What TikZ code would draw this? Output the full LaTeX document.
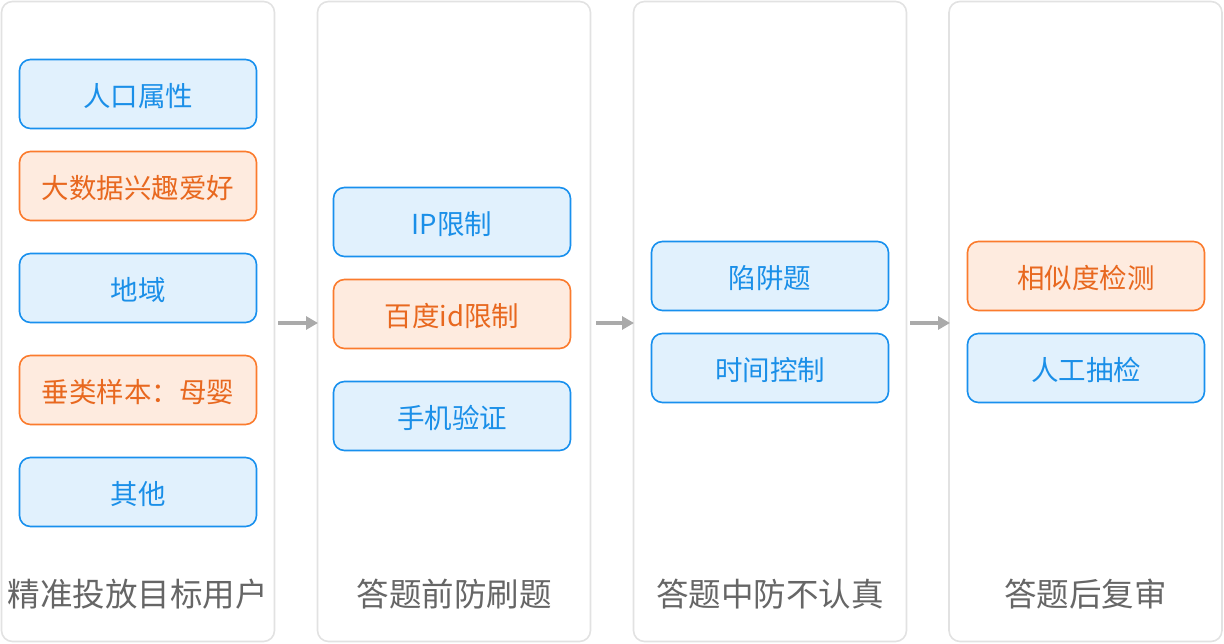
\documentclass[tikz,border=0pt]{standalone}
\usepackage{fontspec}
\setmainfont{Noto Sans CJK SC}
\usetikzlibrary{arrows.meta}
\definecolor{frame}{HTML}{E2E2E2}
\definecolor{bborder}{HTML}{1890EE}
\definecolor{bfill}{HTML}{E1F1FD}
\definecolor{btext}{HTML}{1A8FE8}
\definecolor{oborder}{HTML}{FB7B2D}
\definecolor{ofill}{HTML}{FEEBDF}
\definecolor{otext}{HTML}{E8681F}
\definecolor{ttext}{HTML}{666666}
\definecolor{arr}{HTML}{AAAAAA}
\tikzset{
  colbox/.style={draw=frame, line width=1.6pt, rounded corners=11pt, fill=white,
    minimum width=273pt, minimum height=640pt, inner sep=0pt},
  bluebox/.style={draw=bborder, fill=bfill, text=btext, line width=1.6pt, rounded corners=11pt,
    minimum width=237pt, minimum height=69pt, inner sep=0pt, text height=25pt, text depth=0pt,
    font=\fontsize{27.5}{31}\selectfont},
  orangebox/.style={bluebox, draw=oborder, fill=ofill, text=otext},
  coltitle/.style={text=ttext, font=\fontsize{32.5}{37}\selectfont, inner sep=0pt},
  flow/.style={draw=arr, line width=3.5pt, -{Triangle[length=12pt,width=13pt]}, shorten <=2pt}
}
\begin{document}
\begin{tikzpicture}[x=1pt,y=-1pt]
\useasboundingbox (0,0) rectangle (1224,644);
\node[colbox] (c1) at (138,321.5) {};
\node[colbox] (c2) at (454,321.5) {};
\node[colbox] (c3) at (770,321.5) {};
\node[colbox] (c4) at (1085.5,321.5) {};

\node[bluebox] (a1) at (138,94) {人口属性};
\node[orangebox] (a2) at (138,186) {大数据兴趣爱好};
\node[bluebox] (a3) at (138,288) {地域};
\node[orangebox] (a4) at (138,390) {垂类样本：母婴};
\node[bluebox] (a5) at (138,492) {其他};

\node[bluebox] (b1) at (452,222) {IP限制};
\node[orangebox] (b2) at (452,314) {百度id限制};
\node[bluebox] (b3) at (452,416) {手机验证};

\node[bluebox] (d1) at (770,276) {陷阱题};
\node[bluebox] (d2) at (770,368) {时间控制};

\node[orangebox] (e1) at (1086,276) {相似度检测};
\node[bluebox] (e2) at (1086,368) {人工抽检};

\node[coltitle] (t1) at (138,594) {精准投放目标用户};
\node[coltitle] (t2) at (454,594) {答题前防刷题};
\node[coltitle] (t3) at (770,594) {答题中防不认真};
\node[coltitle] (t4) at (1085.5,594) {答题后复审};

\coordinate (p1) at (276,323);
\coordinate (q1) at (318,323);
\coordinate (p2) at (594,323);
\coordinate (q2) at (634,323);
\coordinate (p3) at (908,323);
\coordinate (q3) at (950,323);
\draw[flow] (p1) -- (q1);
\draw[flow] (p2) -- (q2);
\draw[flow] (p3) -- (q3);
\end{tikzpicture}
\end{document}
